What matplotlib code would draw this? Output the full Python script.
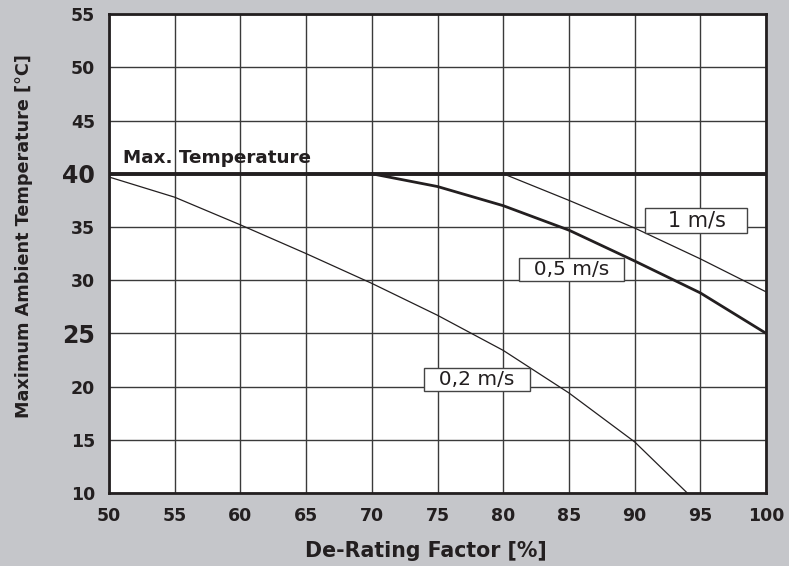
import matplotlib
matplotlib.use("Agg")
import matplotlib.pyplot as plt

plt.rcParams['font.family'] = ['DejaVu Sans']

# De-rating curves
x_02 = [50, 55, 60, 65, 70, 75, 80, 85, 90, 94]
y_02 = [39.7, 37.8, 35.2, 32.5, 29.7, 26.7, 23.4, 19.4, 14.8, 10]

x_05 = [70, 75, 80, 85, 90, 95, 100]
y_05 = [40, 38.8, 37.0, 34.7, 31.8, 28.8, 25]

x_1 = [80, 85, 90, 95, 100]
y_1 = [40, 37.5, 34.9, 32.0, 28.9]

max_temp = 40
xticks = [50, 55, 60, 65, 70, 75, 80, 85, 90, 95, 100]
yticks = [10, 15, 20, 25, 30, 35, 40, 45, 50, 55]

bg = '#c5c6ca'
ink = '#231f20'
fig = plt.figure(figsize=(7.89, 5.66), dpi=100, facecolor=bg)
ax = fig.add_axes([0.138, 0.129, 0.833, 0.846])
ax.set_facecolor('white')

ax.set_xlim(50, 100)
ax.set_ylim(10, 55)
ax.set_xticks(xticks)
ax.set_yticks(yticks)
ax.grid(True, color='#3a3a3a', linewidth=1.0)
ax.set_axisbelow(True)
ax.tick_params(axis='x', length=0, pad=10, colors=ink)
ax.tick_params(axis='y', length=0, pad=10, colors=ink)

for lbl in ax.get_xticklabels():
    lbl.set_fontweight('bold')
    lbl.set_fontsize(12.5)
for lbl in ax.get_yticklabels():
    lbl.set_fontweight('bold')
    lbl.set_fontsize(12.5)
    if lbl.get_text() in ('40', '25'):
        lbl.set_fontsize(17)

for s in ax.spines.values():
    s.set_linewidth(2)
    s.set_color(ink)

ax.axhline(max_temp, color=ink, linewidth=2.8, zorder=3)
ax.plot(x_02, y_02, color=ink, linewidth=0.9, zorder=3)
ax.plot(x_05, y_05, color=ink, linewidth=2.0, zorder=3)
ax.plot(x_1, y_1, color=ink, linewidth=0.9, zorder=3)

ax.text(51.1, 40.6, 'Max. Temperature', fontsize=13.2, fontweight='bold',
        color=ink, va='bottom', ha='left', zorder=4)

box = dict(boxstyle='square,pad=0.1', facecolor='white', edgecolor='#444444', linewidth=1)
ax.text(94.7, 35.6, '   1 m/s   ', fontsize=15, ha='center', va='center', bbox=box, zorder=5, color=ink)
ax.text(85.2, 31.0, '  0,5 m/s  ', fontsize=14.5, ha='center', va='center', bbox=box, zorder=5, color=ink)
ax.text(78.0, 20.7, '  0,2 m/s  ', fontsize=14.5, ha='center', va='center', bbox=box, zorder=5, color=ink)

ax.set_xlabel('De-Rating Factor [%]', fontsize=14.8, fontweight='bold', color=ink)
ax.set_ylabel('Maximum Ambient Temperature [°C]', fontsize=12.7, fontweight='bold', color=ink)
ax.xaxis.set_label_coords(0.4825, -0.100)
ax.yaxis.set_label_coords(-0.116, 0.537)

fig.savefig('out.png', dpi=100, facecolor=bg)
